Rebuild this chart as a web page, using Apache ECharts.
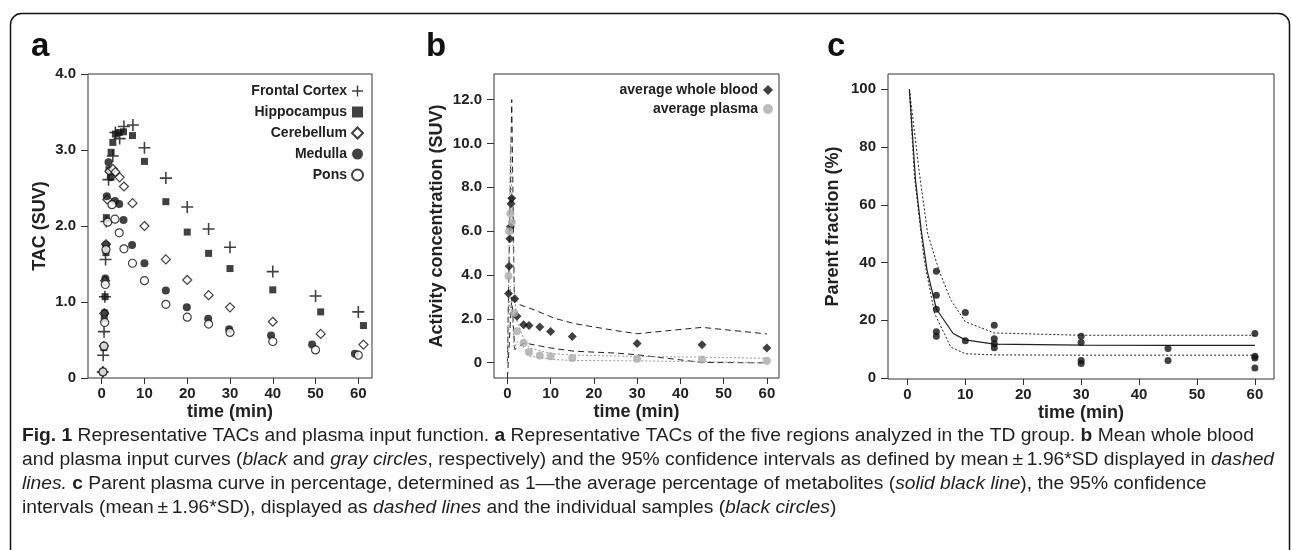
<!DOCTYPE html>
<html>
<head>
<meta charset="utf-8">
<script src="https://cdn.jsdelivr.net/npm/echarts@6/dist/echarts.min.js"></script>
<style>
  html, body { margin: 0; padding: 0; background: #fff; }
  #chart { width: 1292px; height: 550px; }
</style>
</head>
<body>
<div id="chart"></div>
<script>
// Fig. 1: TACs (a), blood / plasma input (b), parent fraction (c)

const TIME_TICKS = [0, 10, 20, 30, 40, 50, 60];
const TAC_TICKS = [0, 1, 2, 3, 4];
const ACT_TICKS = [0, 2, 4, 6, 8, 10, 12];
const PARENT_TICKS = [0, 20, 40, 60, 80, 100];

// panel a - regional TACs (SUV)
const fcT  = [0.25, 0.35, 0.55, 0.75, 0.9, 1.1, 1.6, 2.6, 3.2, 4.2, 5.2, 7.3, 10, 15, 20, 25, 30, 40, 50, 60];
const fcV  = [0.08, 0.30, 0.61, 1.07, 1.56, 2.06, 2.61, 2.92, 3.23, 3.15, 3.31, 3.33, 3.03, 2.63, 2.25, 1.96, 1.72, 1.40, 1.08, 0.87];
const hipT = [0.3, 0.5, 0.6, 0.8, 1.0, 1.1, 1.7, 2.2, 2.6, 3.2, 4.1, 5.1, 7.2, 10, 15, 20, 25, 30, 40, 51.2, 61.2];
const hipV = [0.08, 0.40, 0.78, 1.07, 1.65, 2.11, 2.74, 2.97, 3.10, 3.21, 3.23, 3.24, 3.19, 2.85, 2.32, 1.92, 1.64, 1.44, 1.16, 0.87, 0.69];
const cerT = [0.3, 0.5, 0.6, 0.8, 1.0, 1.3, 1.8, 2.6, 3.2, 4.2, 5.2, 7.2, 10, 15, 20, 25, 30, 40, 51.2, 61.2];
const cerV = [0.08, 0.42, 0.85, 1.28, 1.76, 2.35, 2.72, 2.75, 2.71, 2.64, 2.52, 2.30, 2.00, 1.56, 1.29, 1.09, 0.93, 0.74, 0.58, 0.44];
const medT = [0.3, 0.55, 0.7, 0.85, 1.0, 1.2, 1.6, 2.1, 3.1, 4.1, 5.1, 7.1, 10, 15, 19.9, 24.9, 29.8, 39.6, 49.2, 59.2];
const medV = [0.08, 0.42, 0.86, 1.31, 1.75, 2.39, 2.84, 2.64, 2.33, 2.29, 2.08, 1.75, 1.51, 1.15, 0.93, 0.78, 0.64, 0.56, 0.44, 0.32];
const ponT = [0.3, 0.55, 0.7, 0.85, 1.0, 1.4, 2.4, 3.1, 4.1, 5.2, 7.2, 10, 15, 20, 25, 30, 40, 50, 60];
const ponV = [0.08, 0.42, 0.73, 1.23, 1.69, 2.05, 2.28, 2.09, 1.91, 1.70, 1.51, 1.28, 0.97, 0.80, 0.71, 0.60, 0.48, 0.37, 0.30];

// panel b - average whole blood / plasma (SUV) with 95% CI
const wbT = [0.25, 0.4, 0.55, 0.7, 0.85, 1.0, 1.7, 2.2, 3.75, 5, 7.5, 10, 15, 30, 45, 60];
const wbV = [3.15, 4.40, 5.65, 6.20, 7.25, 7.50, 2.92, 2.12, 1.73, 1.69, 1.63, 1.42, 1.19, 0.87, 0.82, 0.67];
const plT = [0.25, 0.4, 0.7, 1.0, 1.6, 2.2, 3.75, 5, 7.5, 10, 15, 30, 45, 60];
const plV = [3.95, 6.00, 6.80, 6.40, 2.26, 1.43, 0.90, 0.49, 0.33, 0.29, 0.21, 0.18, 0.14, 0.09];
const wbUpT = [0, 1.0, 1.6, 2.9, 6.2, 10.8, 15.5, 24.8, 30, 45, 60];
const wbUpV = [0, 12.0, 2.92, 2.64, 2.41, 2.03, 1.78, 1.47, 1.32, 1.61, 1.31];
const wbLoT = [0, 1.0, 1.7, 3.9, 10, 15.5, 24.8, 30, 45, 60];
const wbLoV = [-0.7, 3.0, 0.6, 0.90, 0.67, 0.52, 0.44, 0.36, 0.01, -0.01];
const plUpT = [0, 0.7, 1.6, 2.2, 3.75, 5, 10, 15, 30, 45, 60];
const plUpV = [0, 10.0, 3.2, 1.9, 1.1, 0.68, 0.42, 0.35, 0.28, 0.25, 0.20];
const plLoT = [0, 0.7, 1.6, 2.2, 3.75, 5, 10, 15, 30, 45, 60];
const plLoV = [0, 3.5, 0.6, 0.95, 0.70, 0.30, 0.15, 0.10, 0.08, 0.05, 0.0];

// panel c - parent fraction (%)
const sampT = [5, 5, 5, 5, 5, 10, 10, 15, 15, 15, 15, 30, 30, 30, 30, 45, 45, 60, 60, 60, 60];
const sampV = [37.0, 28.7, 23.8, 16.0, 14.5, 22.7, 12.9, 18.3, 13.6, 11.9, 10.5, 14.5, 12.3, 6.1, 5.0, 10.2, 6.1, 15.4, 7.5, 6.9, 3.5];
const meanT = [0.35, 1.4, 2.4, 3.4, 5, 7.9, 10, 15, 30, 45, 60];
const meanV = [100, 68.5, 51, 37.3, 23.9, 15.4, 13.2, 11.7, 11.4, 11.3, 11.3];
const ciUpT = [0.35, 2, 3.5, 5.5, 7.5, 10, 15, 30, 45, 60];
const ciUpV = [100, 72, 50, 37, 27, 19.5, 15.6, 14.8, 14.8, 14.8];
const ciLoT = [0.35, 1.2, 2.9, 4.7, 7.5, 10, 15, 30, 45, 60];
const ciLoV = [100, 70, 40.8, 22.3, 10.7, 8.4, 8.0, 7.9, 7.9, 7.9];

const pairs = (t, v) => t.map((x, i) => [x, v[i]]);

const FONT = '"Liberation Sans", Arial, Helvetica, sans-serif';
const INK = '#222';
const PLUS = 'path://M0,4.35H10V5.65H0Z M4.35,0H5.65V10H4.35Z';

function xAx(gi, min, max) {
  return {
    type: 'value', gridIndex: gi, min: min, max: max,
    name: 'time (min)', nameLocation: 'middle', nameGap: 25, nameMoveOverlap: false,
    nameTextStyle: { fontSize: 18, fontWeight: 'bold', color: INK, fontFamily: FONT },
    axisLine: { show: false, onZero: false }, splitLine: { show: false },
    axisTick: { show: true, length: 6, lineStyle: { color: '#333' }, customValues: TIME_TICKS },
    axisLabel: { customValues: TIME_TICKS, fontSize: 15, fontWeight: 'bold', color: INK, fontFamily: FONT, margin: 8 }
  };
}
function yAx(gi, min, max, ticks, name, gap, fmt) {
  return {
    type: 'value', gridIndex: gi, min: min, max: max,
    name: name, nameLocation: 'middle', nameGap: gap, nameMoveOverlap: false,
    nameTextStyle: { fontSize: 18, fontWeight: 'bold', color: INK, fontFamily: FONT },
    axisLine: { show: false, onZero: false }, splitLine: { show: false },
    axisTick: { show: true, length: 7, lineStyle: { color: '#333' }, customValues: ticks },
    axisLabel: { customValues: ticks, fontSize: 15, fontWeight: 'bold', color: INK, fontFamily: FONT, margin: 12, formatter: fmt }
  };
}
const oneDec = v => (v === 0 ? '0' : v.toFixed(1));

function scatter(name, gi, data, symbol, size, style) {
  return {
    name: name, type: 'scatter', xAxisIndex: gi, yAxisIndex: gi,
    data: data, symbol: symbol, symbolSize: size, itemStyle: style, z: 3,
    emphasis: { disabled: true }
  };
}
function curve(gi, data, color, dash, width) {
  return {
    type: 'line', xAxisIndex: gi, yAxisIndex: gi, data: data, showSymbol: false,
    lineStyle: { color: color, type: dash, width: width }, z: 2, silent: true
  };
}

const filled = { color: '#111' };
const open = { color: '#fff', borderColor: '#111', borderWidth: 1.2 };

const legendText = { fontSize: 14, fontWeight: 'bold', color: INK, fontFamily: FONT };

// caption: size the font so that the first line spans the caption width
const CAP_FONT = '"Liberation Sans", Arial, sans-serif';
const captionLines = [
  '{b|Fig. 1} Representative TACs and plasma input function. {b|a} Representative TACs of the five regions analyzed in the TD group. {b|b} Mean whole blood',
  'and plasma input curves ({i|black} and {i|gray circles}, respectively) and the 95% confidence intervals as defined by mean\u2009\u00b1\u20091.96*SD displayed in {i|dashed}',
  '{i|lines.} {b|c} Parent plasma curve in percentage, determined as 1\u2014the average percentage of metabolites ({i|solid black line}), the 95% confidence',
  'intervals (mean\u2009\u00b1\u20091.96*SD), displayed as {i|dashed lines} and the individual samples ({i|black circles})'
];
const ctx = document.createElement('canvas').getContext('2d');
ctx.font = '18px ' + CAP_FONT;
const capSize = 18 * 1230 / ctx.measureText(captionLines[0].replace(/\{[bi]\|([^}]*)\}/g, '$1')).width;
const captionRich = {
  b: { fontWeight: 'bold', fontSize: capSize, fontFamily: CAP_FONT, fill: '#231f20' },
  i: { fontStyle: 'italic', fontSize: capSize, fontFamily: CAP_FONT, fill: '#231f20' }
};

const graphics = [
  { type: 'rect', silent: true, shape: { x: 10.5, y: 13.5, width: 1279, height: 580, r: 11 },
    style: { fill: 'none', stroke: '#111', lineWidth: 1.5 } },
  { type: 'text', x: 31, y: 30, style: { text: 'a', fontSize: 33, fontWeight: 'bold', fontFamily: FONT, fill: '#111' } },
  { type: 'text', x: 426, y: 30, style: { text: 'b', fontSize: 33, fontWeight: 'bold', fontFamily: FONT, fill: '#111' } },
  { type: 'text', x: 827, y: 30, style: { text: 'c', fontSize: 33, fontWeight: 'bold', fontFamily: FONT, fill: '#111' } }
];
captionLines.forEach((line, k) => {
  graphics.push({
    type: 'text', x: 22, y: 436 + k * 24,
    style: { text: line, rich: captionRich, fontSize: capSize, fill: '#231f20', fontFamily: CAP_FONT, verticalAlign: 'middle' }
  });
});

const option = {
  backgroundColor: '#fff',
  animation: false,
  grid: [
    { left: 88, top: 74, width: 284, height: 304, show: true, borderColor: '#333', borderWidth: 1 },
    { left: 494, top: 74, width: 285, height: 304, show: true, borderColor: '#333', borderWidth: 1 },
    { left: 888, top: 74, width: 386, height: 305, show: true, borderColor: '#333', borderWidth: 1 }
  ],
  xAxis: [xAx(0, -3.2, 63.2), xAx(1, -3.1, 62.8), xAx(2, -3.35, 63.3)],
  yAxis: [
    yAx(0, 0, 4.0, TAC_TICKS, 'TAC (SUV)', 39, oneDec),
    yAx(1, -0.7, 13.17, ACT_TICKS, 'Activity concentration (SUV)', 48, oneDec),
    yAx(2, -0.35, 105.3, PARENT_TICKS, 'Parent fraction (%)', 46, v => String(v))
  ],
  legend: [
    { data: ['Frontal Cortex', 'Hippocampus', 'Cerebellum', 'Medulla', 'Pons'],
      orient: 'vertical', align: 'right', right: 923, top: 79, itemWidth: 11, itemHeight: 11, itemGap: 7,
      selectedMode: false, textStyle: legendText },
    { data: ['average whole blood', 'average plasma'],
      orient: 'vertical', align: 'right', right: 514, top: 78, itemWidth: 10, itemHeight: 10, itemGap: 5,
      selectedMode: false, textStyle: legendText }
  ],
  graphic: graphics,
  series: [
    scatter('Frontal Cortex', 0, pairs(fcT, fcV), PLUS, 12, filled),
    scatter('Hippocampus', 0, pairs(hipT, hipV), 'rect', 7, filled),
    scatter('Cerebellum', 0, pairs(cerT, cerV), 'diamond', 9, open),
    scatter('Medulla', 0, pairs(medT, medV), 'circle', 8, filled),
    scatter('Pons', 0, pairs(ponT, ponV), 'circle', 8, open),

    curve(1, pairs(wbUpT, wbUpV), '#222', [6, 4], 1),
    curve(1, pairs(wbLoT, wbLoV), '#222', [6, 4], 1),
    curve(1, pairs(plUpT, plUpV), '#999', [2, 2], 1),
    curve(1, pairs(plLoT, plLoV), '#999', [2, 2], 1),
    scatter('average whole blood', 1, pairs(wbT, wbV), 'diamond', 9, { color: '#111' }),
    scatter('average plasma', 1, pairs(plT, plV), 'circle', 8, { color: '#aaa' }),

    curve(2, pairs(ciUpT, ciUpV), '#222', [2, 2], 1),
    curve(2, pairs(ciLoT, ciLoV), '#222', [2, 2], 1),
    curve(2, pairs(meanT, meanV), '#222', 'solid', 1.2),
    scatter('samples', 2, pairs(sampT, sampV), 'circle', 7, filled)
  ]
};

const chart = echarts.init(document.getElementById('chart'));
chart.setOption(option);
</script>
</body>
</html>
